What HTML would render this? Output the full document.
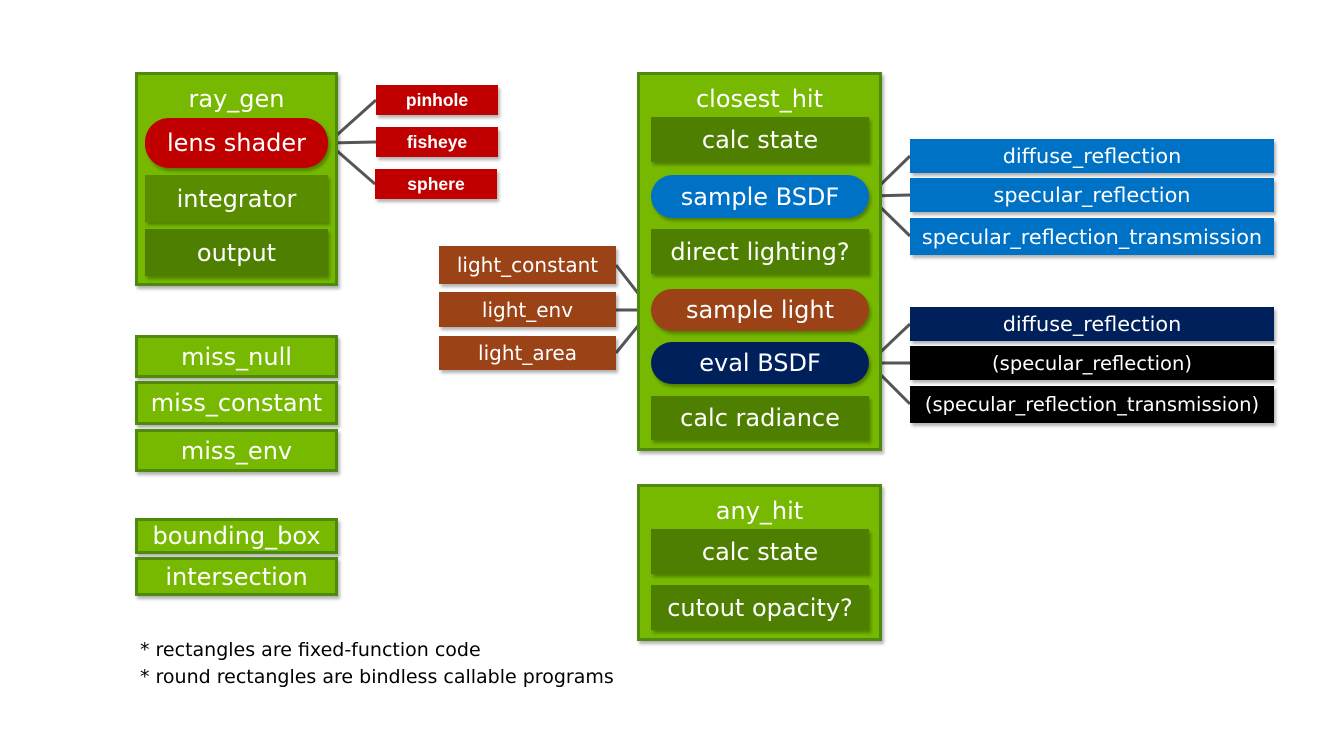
<!DOCTYPE html>
<html><head><meta charset="utf-8"><style>
body{margin:0;width:1319px;height:742px;background:#fff;position:relative;overflow:hidden;font-family:"DejaVu Sans","Liberation Sans",sans-serif;}
.b{position:absolute;box-sizing:border-box;color:#fff;display:flex;align-items:center;justify-content:center;white-space:nowrap;box-shadow:2px 3px 3px rgba(0,0,0,0.3);}
.g{background:#76b900;border:3px solid #4e8a0e;align-items:flex-start;font-size:24px;padding-top:10px;}
.mi{background:#76b900;border:3px solid #4e8a0e;font-size:24px;}
.d{background:#4f7f00;font-size:24px;}
.d2{background:#5a8c00;font-size:24px;}
.p{border-radius:24px;font-size:24px;}
.r{background:#c00000;font-size:17.5px;font-weight:bold;font-family:"Liberation Sans",sans-serif;}
.br{background:#9c4217;font-size:20px;}
.bl{background:#0072c6;font-size:20.8px;}
.nv{background:#00205c;font-size:20.8px;}
.k{background:#000;font-size:19.5px;}
.t{position:absolute;font-size:19px;color:#000;}
</style></head><body>
<svg style="position:absolute;left:0;top:0" width="1319" height="742">
<g stroke="#555" stroke-width="3" fill="none">
<path d="M328 143 L376 100 M328 143 L376 142 M328 143 L375 184"/>
<path d="M651 310 L616 265 M651 310 L616 310 M651 310 L616 353"/>
<path d="M869 196 L910 156 M869 196 L910 195 M869 196 L910 236"/>
<path d="M869 363 L910 324 M869 363 L910 363 M869 363 L910 404"/>
</g></svg>

<div class="b g" style="left:135px;top:72px;width:203px;height:214px">ray_gen</div>
<div class="b p r" style="left:145px;top:118px;width:183px;height:50px;font-weight:normal;font-size:24px;font-family:'DejaVu Sans',sans-serif">lens shader</div>
<div class="b d2" style="left:145px;top:175px;width:183px;height:47px">integrator</div>
<div class="b d" style="left:145px;top:229px;width:183px;height:47px">output</div>

<div class="b r" style="left:376px;top:85px;width:122px;height:30px">pinhole</div>
<div class="b r" style="left:376px;top:127px;width:122px;height:30px">fisheye</div>
<div class="b r" style="left:375px;top:169px;width:122px;height:30px">sphere</div>

<div class="b mi" style="left:135px;top:335px;width:203px;height:43px">miss_null</div>
<div class="b mi" style="left:135px;top:381px;width:203px;height:44px">miss_constant</div>
<div class="b mi" style="left:135px;top:429px;width:203px;height:43px">miss_env</div>
<div class="b mi" style="left:135px;top:518px;width:203px;height:36px">bounding_box</div>
<div class="b mi" style="left:135px;top:557px;width:203px;height:39px">intersection</div>

<div class="b g" style="left:637px;top:72px;width:245px;height:379px">closest_hit</div>
<div class="b d" style="left:651px;top:117px;width:218px;height:45px">calc state</div>
<div class="b p bl" style="left:651px;top:175px;width:218px;height:43px;font-size:24px">sample BSDF</div>
<div class="b d" style="left:651px;top:229px;width:218px;height:45px">direct lighting?</div>
<div class="b p br" style="left:651px;top:289px;width:218px;height:42px;font-size:24px">sample light</div>
<div class="b p nv" style="left:651px;top:342px;width:218px;height:42px;font-size:24px">eval BSDF</div>
<div class="b d" style="left:651px;top:396px;width:218px;height:44px">calc radiance</div>

<div class="b g" style="left:637px;top:484px;width:245px;height:157px">any_hit</div>
<div class="b d" style="left:651px;top:529px;width:218px;height:45px">calc state</div>
<div class="b d" style="left:651px;top:585px;width:218px;height:45px">cutout opacity?</div>

<div class="b br" style="left:439px;top:246px;width:177px;height:38px">light_constant</div>
<div class="b br" style="left:439px;top:292px;width:177px;height:35px">light_env</div>
<div class="b br" style="left:439px;top:336px;width:177px;height:34px">light_area</div>

<div class="b bl" style="left:910px;top:139px;width:364px;height:34px">diffuse_reflection</div>
<div class="b bl" style="left:910px;top:178px;width:364px;height:34px">specular_reflection</div>
<div class="b bl" style="left:910px;top:218px;width:364px;height:37px">specular_reflection_transmission</div>
<div class="b nv" style="left:910px;top:307px;width:364px;height:34px">diffuse_reflection</div>
<div class="b k" style="left:910px;top:346px;width:364px;height:34px">(specular_reflection)</div>
<div class="b k" style="left:910px;top:386px;width:364px;height:37px">(specular_reflection_transmission)</div>

<div class="t" style="left:140px;top:639px">* rectangles are fixed-function code</div>
<div class="t" style="left:140px;top:666px">* round rectangles are bindless callable programs</div>
</body></html>
